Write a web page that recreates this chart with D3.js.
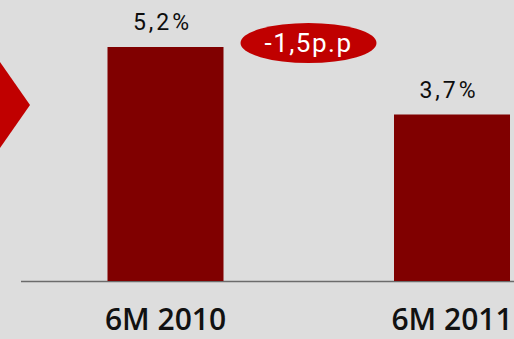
<!DOCTYPE html>
<html>
<head>
<meta charset="utf-8">
<script src="https://cdn.jsdelivr.net/npm/d3@7"></script>
<style>
  html, body { margin: 0; padding: 0; background: #dddddd; }
  svg { display: block; }
</style>
</head>
<body>
<svg id="chart" width="514" height="339"></svg>
<script>
// Share of the period, first half of each year
const categories = ["6M 2010", "6M 2011"];
const values = [5.2, 3.7];
const valueLabels = ["5,2%", "3,7%"];
const changeLabel = "-1,5p.p";

const W = 514, H = 339;
const svg = d3.select("#chart");

svg.append("rect").attr("width", W).attr("height", H).attr("fill", "#dddddd");

// decorative arrow marker on the left edge
svg.append("path")
  .attr("d", "M-20,62 L0,62 L30,105 L0,148 L-20,148 Z")
  .attr("fill", "#c00000");

const baseY = 281;

const y = d3.scaleLinear()
  .domain([0, 5.2])
  .range([baseY, 47]);

// baseline
svg.append("line")
  .attr("x1", 21).attr("x2", W)
  .attr("y1", baseY + 0.5).attr("y2", baseY + 0.5)
  .attr("stroke", "#6b6b6b").attr("stroke-width", 1.5);

const bw = 116;
const xs = d3.scalePoint().domain(categories).range([165.5, 452]);

svg.selectAll("rect.bar")
  .data(values)
  .enter().append("rect")
  .attr("class", "bar")
  .attr("x", (d, i) => xs(categories[i]) - bw / 2)
  .attr("width", bw)
  .attr("y", d => y(d))
  .attr("height", d => baseY - y(d))
  .attr("fill", "#800000");

svg.selectAll("text.val")
  .data(values)
  .enter().append("text")
  .attr("class", "val")
  .attr("x", (d, i) => xs(categories[i]) - 3)
  .attr("y", d => y(d) - 17)
  .attr("text-anchor", "middle")
  .attr("font-family", "Roboto, sans-serif")
  .attr("font-size", 23)
  .attr("letter-spacing", 3)
  .attr("fill", "#0d0d0d")
  .text((d, i) => valueLabels[i]);

svg.selectAll("text.cat")
  .data(categories)
  .enter().append("text")
  .attr("class", "cat")
  .attr("x", d => xs(d))
  .attr("y", 330)
  .attr("text-anchor", "middle")
  .attr("font-family", "'Open Sans', sans-serif")
  .attr("font-weight", 600)
  .attr("font-size", 30)
  .attr("fill", "#111")
  .text(d => d);

// change badge
const badge = svg.append("g").attr("transform", "translate(308.5,43)");
badge.append("ellipse").attr("rx", 68).attr("ry", 20).attr("fill", "#c00000");
badge.append("text")
  .attr("y", 9)
  .attr("text-anchor", "middle")
  .attr("font-family", "Roboto, sans-serif")
  .attr("font-size", 26)
  .attr("letter-spacing", 1.5)
  .attr("fill", "#ffffff")
  .text(changeLabel);
</script>
</body>
</html>
